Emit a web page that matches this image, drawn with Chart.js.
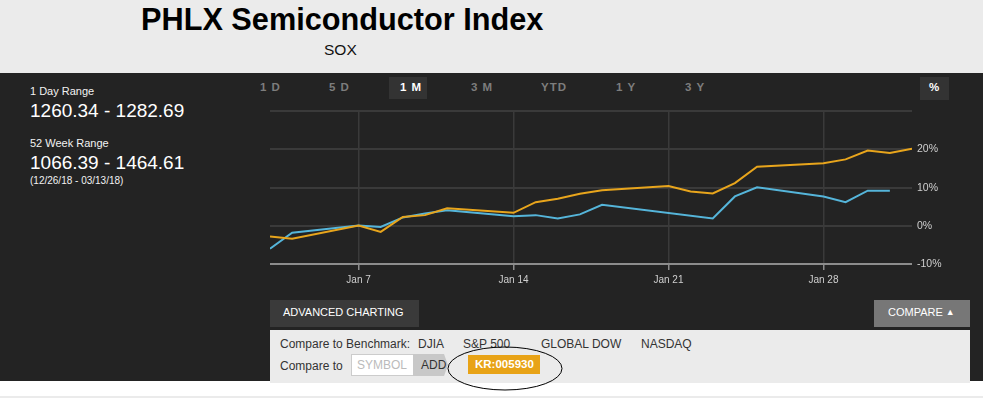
<!DOCTYPE html>
<html>
<head>
<meta charset="utf-8">
<script src="https://cdn.jsdelivr.net/npm/chart.js"></script>
<style>
    body { margin: 0; background: #fff; font-family: "Liberation Sans", Arial, sans-serif; }
    .abs { position: absolute; white-space: nowrap; }
    .range-label { font-size: 11px; color: #f2f2f2; }
    .range-value { font-size: 19px; color: #fff; }
    .period { font-family: "Liberation Sans Narrow", "Arial Narrow", sans-serif; font-weight: bold;
              font-size: 11.5px; letter-spacing: 1px; color: #7d7d7d; top: 81px; }
    .bench { font-size: 12px; color: #333; }
</style>
</head>
<body>
<!-- header -->
<div class="abs" style="left:0;top:0;width:983px;height:73px;background:#ebebeb;"></div>
<div class="abs" style="left:141px;top:5px;font-size:30.7px;font-weight:bold;color:#000;line-height:30px;">PHLX Semiconductor Index</div>
<div class="abs" style="left:324px;top:42px;font-size:15.5px;color:#111;line-height:16px;">SOX</div>

<!-- dark panel -->
<div class="abs" style="left:0;top:73px;width:983px;height:308px;background:#232323;"></div>

<div class="abs range-label" style="left:30px;top:85px;">1 Day Range</div>
<div class="abs range-value" style="left:30px;top:100px;">1260.34 - 1282.69</div>
<div class="abs range-label" style="left:30px;top:137px;">52 Week Range</div>
<div class="abs range-value" style="left:30px;top:152px;">1066.39 - 1464.61</div>
<div class="abs" style="left:30px;top:175px;font-size:10px;color:#f2f2f2;">(12/26/18 - 03/13/18)</div>

<!-- period buttons -->
<div class="abs period" style="left:260px;">1 D</div>
<div class="abs period" style="left:329px;">5 D</div>
<div class="abs" style="left:389px;top:77px;width:38px;height:22px;background:#333;"></div>
<div class="abs period" style="left:400px;color:#fff;">1 M</div>
<div class="abs period" style="left:471px;">3 M</div>
<div class="abs period" style="left:541px;">YTD</div>
<div class="abs period" style="left:616px;">1 Y</div>
<div class="abs period" style="left:685px;">3 Y</div>
<div class="abs" style="left:920px;top:77px;width:29px;height:23px;background:#333;"></div>
<div class="abs period" style="left:929px;color:#fff;letter-spacing:0;">%</div>

<!-- chart -->
<div class="abs" style="left:266px;top:100px;width:712px;height:196px;">
    <canvas id="soxChart"></canvas>
</div>

<!-- buttons under the chart -->
<div class="abs" style="left:270px;top:300px;width:149px;height:27px;background:#3a3a3a;"></div>
<div class="abs" style="left:283px;top:306px;font-size:11px;color:#fff;">ADVANCED CHARTING</div>
<div class="abs" style="left:874px;top:300px;width:96px;height:27px;background:#777;"></div>
<div class="abs" style="left:888px;top:306px;font-size:11px;color:#fff;">COMPARE <span style="font-size:9px;vertical-align:1px;">&#9650;</span></div>

<!-- compare panel -->
<div class="abs" style="left:270px;top:330px;width:700px;height:53px;background:#ebebeb;"></div>
<div class="abs bench" style="left:280px;top:337px;">Compare to Benchmark:</div>
<div class="abs bench" style="left:418px;top:337px;">DJIA</div>
<div class="abs bench" style="left:463px;top:337px;">S&amp;P 500</div>
<div class="abs bench" style="left:541px;top:337px;">GLOBAL DOW</div>
<div class="abs bench" style="left:641px;top:337px;">NASDAQ</div>
<div class="abs bench" style="left:280px;top:359px;">Compare to</div>
<div class="abs" style="left:351px;top:354px;width:61px;height:20px;background:#fff;border:1px solid #ccc;"></div>
<div class="abs" style="left:357px;top:358px;font-size:12px;color:#bbb;">SYMBOL</div>
<div class="abs" style="left:413px;top:354px;width:35px;height:22px;background:#c8c8c8;clip-path:polygon(0 0,31px 0,35px 50%,31px 100%,0 100%);"></div>
<div class="abs bench" style="left:421px;top:358px;">ADD</div>
<div class="abs" style="left:468px;top:355px;width:72px;height:19px;background:#e8a317;"></div>
<div class="abs" style="left:475px;top:358px;font-size:11.5px;font-weight:bold;color:#fff;">KR:005930</div>
<svg class="abs" style="left:440px;top:340px;" width="130" height="56">
    <ellipse cx="65" cy="28.5" rx="57" ry="21.5" fill="none" stroke="#000" stroke-width="1"/>
</svg>

<!-- bottom strip -->
<div class="abs" style="left:0;top:396px;width:983px;height:2px;background:#ebebeb;"></div>

<script>
// day of the month (Jan 2019, 32 = Feb 1) and percent change of each series
const soxDays = [3, 4, 7, 8, 9, 10, 11, 14, 15, 16, 17, 18, 21, 22, 23, 24, 25, 28, 29, 30, 31, 32];
const soxValues = [-2.8, -3.4, 0.1, -1.6, 2.3, 2.8, 4.6, 3.4, 6.2, 7.1, 8.4, 9.3, 10.4, 9.0, 8.5, 11.2, 15.5, 16.4, 17.4, 19.7, 19.1, 20.2];

const krDays = [3, 4, 7, 8, 9, 10, 11, 14, 15, 16, 17, 18, 23, 24, 25, 28, 29, 30, 31];
const krValues = [-6.0, -1.8, 0.1, -0.3, 2.2, 3.2, 4.1, 2.5, 2.8, 1.9, 3.0, 5.5, 1.9, 7.7, 10.1, 7.7, 6.2, 9.2, 9.2];

// axis ticks
const xTickDays = [7, 14, 21, 28];
const xTickLabels = ['Jan 7', 'Jan 14', 'Jan 21', 'Jan 28'];
const yTickValues = [-10, 0, 10, 20, 30];
const yTickLabels = ['-10%', '0%', '10%', '20%', ''];

const COLORS = {
    orange: '#e8a51c',
    blue: '#55b5da',
    grid: '#3a3a3a',
    axis: '#8c8c8c',
    text: '#cfcfcf',
};

const toPoints = (days, values) => days.map((d, i) => ({ x: d, y: values[i] }));

const ctx = document.getElementById('soxChart');

const soxChartConfig = {
    type: 'line',
    data: {
        datasets: [
            {
                label: 'SOX',
                data: toPoints(soxDays, soxValues),
                borderColor: COLORS.orange,
                borderWidth: 2,
                pointRadius: 0,
                tension: 0
            },
            {
                label: 'KR:005930',
                data: toPoints(krDays, krValues),
                borderColor: COLORS.blue,
                borderWidth: 2,
                pointRadius: 0,
                tension: 0
            }
        ]
    },
    options: {
        responsive: true,
        maintainAspectRatio: false,
        animation: false,
        layout: { padding: { left: 4, top: 0, right: 0, bottom: 0 } },
        plugins: {
            legend: { display: false },
            tooltip: { enabled: false }
        },
        scales: {
            x: {
                type: 'linear',
                min: 3,
                max: 32,
                afterBuildTicks: axis => { axis.ticks = xTickDays.map(v => ({ value: v })); },
                afterFit: scale => { scale.height = 32; },
                border: { display: false },
                grid: {
                    color: COLORS.grid,
                    lineWidth: 1.5,
                    tickColor: COLORS.axis,
                    tickLength: 6
                },
                ticks: {
                    color: COLORS.text,
                    font: { family: 'Liberation Sans', size: 10 },
                    padding: 4,
                    maxRotation: 0,
                    callback: (value, index) => xTickLabels[index]
                }
            },
            y: {
                position: 'right',
                min: -10,
                max: 30,
                afterBuildTicks: axis => { axis.ticks = yTickValues.map(v => ({ value: v })); },
                afterFit: scale => { scale.width = 66; },
                border: { display: false },
                grid: {
                    color: c => c.tick && c.tick.value === -10 ? COLORS.axis : COLORS.grid,
                    lineWidth: 2,
                    drawTicks: false
                },
                ticks: {
                    color: COLORS.text,
                    font: { family: 'Liberation Sans', size: 10.5 },
                    padding: 5,
                    callback: (value, index) => yTickLabels[index]
                }
            }
        }
    }
};

const soxChart = new Chart(ctx, soxChartConfig);
</script>
</body>
</html>
